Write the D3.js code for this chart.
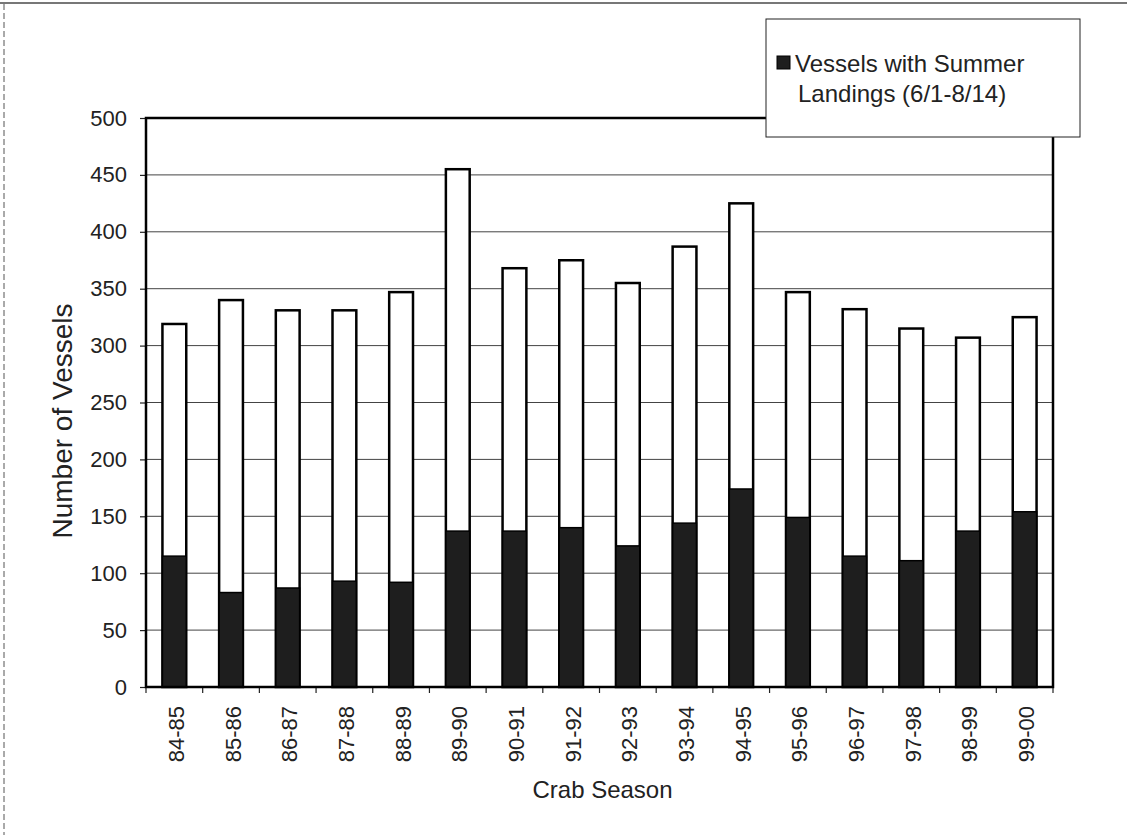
<!DOCTYPE html>
<html>
<head>
<meta charset="utf-8">
<script src="https://cdn.jsdelivr.net/npm/d3@7"></script>
<style>
	body { margin: 0; background: #fff; }
	svg { display: block; font-family: "Liberation Sans", Arial, sans-serif; }
	.grid line { stroke: #444; stroke-width: 1; }
</style>
</head>
<body>
<svg id="chart" width="1127" height="835"></svg>
<script>
// Crab seasons and vessel counts
const seasons = ["84-85", "85-86", "86-87", "87-88", "88-89", "89-90", "90-91", "91-92",
	"92-93", "93-94", "94-95", "95-96", "96-97", "97-98", "98-99", "99-00"];
const totalVessels = [319, 340, 331, 331, 347, 455, 368, 375, 355, 387, 425, 347, 332, 315, 307, 325];
const summerVessels = [115, 83, 87, 93, 92, 137, 137, 140, 124, 144, 174, 149, 115, 111, 137, 154];
const yTicks = [0, 50, 100, 150, 200, 250, 300, 350, 400, 450, 500];
const legendLines = ["Vessels with Summer", "Landings (6/1-8/14)"];

const svg = d3.select("#chart");
const plot = {left: 146, right: 1053, top: 118, bottom: 687};

const rows = seasons.map((s, i) => ({season: s, total: totalVessels[i], summer: summerVessels[i]}));

const x = d3.scaleBand()
	.domain(seasons)
	.range([plot.left, plot.right])
	.paddingInner(0.58)
	.paddingOuter(0.29);

const y = d3.scaleLinear()
	.domain([0, 500])
	.range([plot.bottom, plot.top]);

// outer frame of the scanned page
svg.append("line")
	.attr("x1", 0).attr("x2", 1127).attr("y1", 3).attr("y2", 3)
	.style("stroke", "#777").style("stroke-width", 2);
svg.append("line")
	.attr("x1", 4).attr("x2", 4).attr("y1", 4).attr("y2", 835)
	.style("stroke", "#555").style("stroke-width", 1)
	.style("stroke-dasharray", "6,3");

// gridlines
svg.append("g")
	.classed("grid", true)
	.selectAll("line")
	.data(yTicks.filter(d => d > 0 && d < 500))
	.enter().append("line")
	.attr("x1", plot.left).attr("x2", plot.right)
	.attr("y1", d => y(d)).attr("y2", d => y(d));

// y axis ticks + labels
const yAxis = d3.axisLeft(y)
	.tickValues(yTicks)
	.tickSize(6)
	.tickPadding(13)
	.tickFormat(d3.format("d"));

const yg = svg.append("g")
	.attr("transform", "translate(" + plot.left + ",0)")
	.call(yAxis);
yg.select(".domain").remove();
yg.selectAll(".tick line").style("stroke", "#222").style("stroke-width", 1.2);
yg.selectAll("text")
	.style("font-size", "22px")
	.style("fill", "#222")
	.style("font-family", "Liberation Sans, Arial, sans-serif");

// x tick marks sit at the band boundaries
const step = x.step();
svg.append("g")
	.selectAll("line")
	.data(d3.range(seasons.length + 1))
	.enter().append("line")
	.attr("x1", i => plot.left + i * step).attr("x2", i => plot.left + i * step)
	.attr("y1", plot.bottom).attr("y2", plot.bottom + 6)
	.style("stroke", "#222").style("stroke-width", 1.2);

// rotated season labels
svg.append("g")
	.selectAll("text")
	.data(seasons)
	.enter().append("text")
	.attr("transform", d => "translate(" + (x(d) + x.bandwidth() / 2 + 2) + "," + 706 + ") rotate(-90)")
	.attr("text-anchor", "end")
	.attr("dominant-baseline", "central")
	.style("font-size", "22px")
	.style("fill", "#222")
	.text(d => d);

// bars: total outlined in white, summer part dark from the base
const bars = svg.append("g");
bars.selectAll(".total")
	.data(rows)
	.enter().append("rect")
	.classed("total", true)
	.attr("x", d => x(d.season))
	.attr("width", x.bandwidth())
	.attr("y", d => y(d.total))
	.attr("height", d => y(0) - y(d.total))
	.style("fill", "#fff")
	.style("stroke", "#000")
	.style("stroke-width", 2.5);

bars.selectAll(".summer")
	.data(rows)
	.enter().append("rect")
	.classed("summer", true)
	.attr("x", d => x(d.season))
	.attr("width", x.bandwidth())
	.attr("y", d => y(d.summer))
	.attr("height", d => y(0) - y(d.summer))
	.style("fill", "#1e1e1e")
	.style("stroke", "#000")
	.style("stroke-width", 1.5);

// plot area border
svg.append("rect")
	.attr("x", plot.left).attr("y", plot.top)
	.attr("width", plot.right - plot.left)
	.attr("height", plot.bottom - plot.top)
	.style("fill", "none")
	.style("stroke", "#000")
	.style("stroke-width", 2.5);

// axis titles
svg.append("text")
	.attr("transform", "translate(72,421) rotate(-90)")
	.attr("text-anchor", "middle")
	.style("font-size", "28px")
	.style("fill", "#222")
	.text("Number of Vessels");

svg.append("text")
	.attr("x", (plot.left + plot.right) / 2 + 3)
	.attr("y", 798)
	.attr("text-anchor", "middle")
	.style("font-size", "24px")
	.style("fill", "#222")
	.text("Crab Season");

// legend
const legend = svg.append("g");
legend.append("rect")
	.attr("x", 766).attr("y", 19)
	.attr("width", 314).attr("height", 118)
	.style("fill", "#fff")
	.style("stroke", "#222")
	.style("stroke-width", 1);
legend.append("rect")
	.attr("x", 777).attr("y", 56)
	.attr("width", 13).attr("height", 13)
	.style("fill", "#1e1e1e")
	.style("stroke", "#000");
legend.selectAll(".legend-label")
	.data(legendLines)
	.enter().append("text")
	.classed("legend-label", true)
	.attr("x", (d, i) => i === 0 ? 795 : 798)
	.attr("y", (d, i) => 72 + i * 30)
	.style("font-size", "24px")
	.style("fill", "#222")
	.text(d => d);
</script>
</body>
</html>
